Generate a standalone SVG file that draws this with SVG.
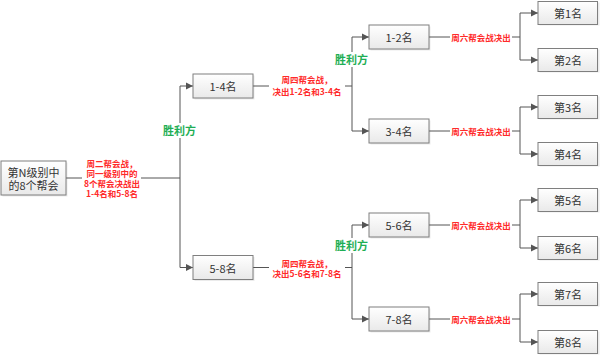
<svg xmlns="http://www.w3.org/2000/svg" width="600" height="355" viewBox="0 0 600 355">
<style>
.box{fill:url(#g);stroke:#7f7f7f;stroke-width:1}
.sh{fill:#000;opacity:0.08}
.nt{font-family:"Noto Sans CJK SC","Liberation Sans",sans-serif;font-size:11px;fill:#333;text-anchor:middle;dominant-baseline:central}
.ln{fill:none;stroke:#555;stroke-width:1}
.ar{fill:none;stroke:#555;stroke-width:1;marker-end:url(#a)}
.lb{font-family:"Noto Sans CJK SC","Liberation Sans",sans-serif;font-size:8.5px;font-weight:bold;fill:#ff2a2a;text-anchor:middle;dominant-baseline:central}
.win{font-family:"Noto Sans CJK SC","Liberation Sans",sans-serif;font-size:11px;font-weight:bold;fill:#1fae55;text-anchor:middle;dominant-baseline:central}
.bg{fill:#fff}
</style>
<defs>
<linearGradient id="g" x1="0" y1="0" x2="0" y2="1">
<stop offset="0" stop-color="#ffffff"/>
<stop offset="1" stop-color="#e9e9e9"/>
</linearGradient>
<marker id="a" markerWidth="8" markerHeight="8" refX="7" refY="4" orient="auto" markerUnits="userSpaceOnUse">
<path d="M0,0.5 L7,4 L0,7.5 Z" fill="#555"/>
</marker>
</defs>
<rect width="600" height="355" fill="#fff"/>

<g id="connectors">
<path class="ln" d="M66,178 H180 M180,86 V267.5"/>
<path class="ar" d="M180,86 H193"/>
<path class="ar" d="M180,267.5 H193"/>
<path class="ln" d="M253,86 H352 M352,37 V131"/>
<path class="ar" d="M352,37 H369"/>
<path class="ar" d="M352,131 H369"/>
<path class="ln" d="M253,267.5 H352 M352,225 V319"/>
<path class="ar" d="M352,225 H369"/>
<path class="ar" d="M352,319 H369"/>
<path class="ln" d="M429,37 H520 M520,13 V60"/>
<path class="ar" d="M520,13 H538"/>
<path class="ar" d="M520,60 H538"/>
<path class="ln" d="M429,131 H520 M520,107 V154"/>
<path class="ar" d="M520,107 H538"/>
<path class="ar" d="M520,154 H538"/>
<path class="ln" d="M429,225 H520 M520,200 V248"/>
<path class="ar" d="M520,200 H538"/>
<path class="ar" d="M520,248 H538"/>
<path class="ln" d="M429,319 H520 M520,294 V342"/>
<path class="ar" d="M520,294 H538"/>
<path class="ar" d="M520,342 H538"/>
</g>

<g id="labels">
<rect class="bg" x="82" y="157" width="59" height="41"/>
<text class="lb" x="112" y="163">周二帮会战，</text>
<text class="lb" x="112" y="173">同一级别中的</text>
<text class="lb" x="112" y="183">8个帮会决战出</text>
<text class="lb" x="112" y="192.5">1-4名和5-8名</text>

<rect class="bg" x="269" y="73" width="76" height="24"/>
<text class="lb" x="307" y="79">周四帮会战，</text>
<text class="lb" x="307" y="91">决出1-2名和3-4名</text>

<rect class="bg" x="269" y="257" width="76" height="22"/>
<text class="lb" x="307" y="263">周四帮会战，</text>
<text class="lb" x="307" y="273">决出5-6名和7-8名</text>

<rect class="bg" x="450" y="31" width="62" height="12"/>
<text class="lb" x="481" y="37">周六帮会战决出</text>
<rect class="bg" x="450" y="125" width="62" height="12"/>
<text class="lb" x="481" y="131">周六帮会战决出</text>
<rect class="bg" x="450" y="219" width="62" height="12"/>
<text class="lb" x="481" y="225">周六帮会战决出</text>
<rect class="bg" x="450" y="313" width="62" height="12"/>
<text class="lb" x="481" y="319">周六帮会战决出</text>

<rect class="bg" x="162" y="123" width="35" height="15"/>
<text class="win" x="179.5" y="130">胜利方</text>
<rect class="bg" x="334" y="52" width="35" height="15"/>
<text class="win" x="351.5" y="59">胜利方</text>
<rect class="bg" x="334" y="238" width="35" height="15"/>
<text class="win" x="351.5" y="245">胜利方</text>
</g>

<g id="n_root"><rect class="sh" x="2.5" y="162.5" width="65" height="34"/><rect class="box" x="1" y="161" width="65" height="34"/><text class="nt" x="33.5" y="171.5">第N级别中</text><text class="nt" x="33.5" y="184.5">的8个帮会</text></g>
<g id="n_1_4"><rect class="sh" x="194.5" y="75.5" width="60" height="24"/><rect class="box" x="193" y="74" width="60" height="24"/><text class="nt" x="223" y="86">1-4名</text></g>
<g id="n_5_8"><rect class="sh" x="194.5" y="257" width="60" height="24"/><rect class="box" x="193" y="255.5" width="60" height="24"/><text class="nt" x="223" y="267.5">5-8名</text></g>
<g id="n_1_2"><rect class="sh" x="370.5" y="26.5" width="60" height="24"/><rect class="box" x="369" y="25" width="60" height="24"/><text class="nt" x="399" y="37">1-2名</text></g>
<g id="n_3_4"><rect class="sh" x="370.5" y="120.5" width="60" height="24"/><rect class="box" x="369" y="119" width="60" height="24"/><text class="nt" x="399" y="131">3-4名</text></g>
<g id="n_5_6"><rect class="sh" x="370.5" y="214.5" width="60" height="24"/><rect class="box" x="369" y="213" width="60" height="24"/><text class="nt" x="399" y="225">5-6名</text></g>
<g id="n_7_8"><rect class="sh" x="370.5" y="308.5" width="60" height="24"/><rect class="box" x="369" y="307" width="60" height="24"/><text class="nt" x="399" y="319">7-8名</text></g>
<g id="n_r1"><rect class="sh" x="539.5" y="2.5" width="60" height="23"/><rect class="box" x="538" y="1.5" width="59.5" height="23"/><text class="nt" x="568" y="13">第1名</text></g>
<g id="n_r2"><rect class="sh" x="539.5" y="49.5" width="60" height="23"/><rect class="box" x="538" y="48.5" width="59.5" height="23"/><text class="nt" x="568" y="60">第2名</text></g>
<g id="n_r3"><rect class="sh" x="539.5" y="96.5" width="60" height="23"/><rect class="box" x="538" y="95.5" width="59.5" height="23"/><text class="nt" x="568" y="107">第3名</text></g>
<g id="n_r4"><rect class="sh" x="539.5" y="143.5" width="60" height="23"/><rect class="box" x="538" y="142.5" width="59.5" height="23"/><text class="nt" x="568" y="154">第4名</text></g>
<g id="n_r5"><rect class="sh" x="539.5" y="189.5" width="60" height="23"/><rect class="box" x="538" y="188.5" width="59.5" height="23"/><text class="nt" x="568" y="200">第5名</text></g>
<g id="n_r6"><rect class="sh" x="539.5" y="237.5" width="60" height="23"/><rect class="box" x="538" y="236.5" width="59.5" height="23"/><text class="nt" x="568" y="248">第6名</text></g>
<g id="n_r7"><rect class="sh" x="539.5" y="283.5" width="60" height="23"/><rect class="box" x="538" y="282.5" width="59.5" height="23"/><text class="nt" x="568" y="294">第7名</text></g>
<g id="n_r8"><rect class="sh" x="539.5" y="331.5" width="60" height="23"/><rect class="box" x="538" y="330.5" width="59.5" height="23"/><text class="nt" x="568" y="342">第8名</text></g>
</svg>
